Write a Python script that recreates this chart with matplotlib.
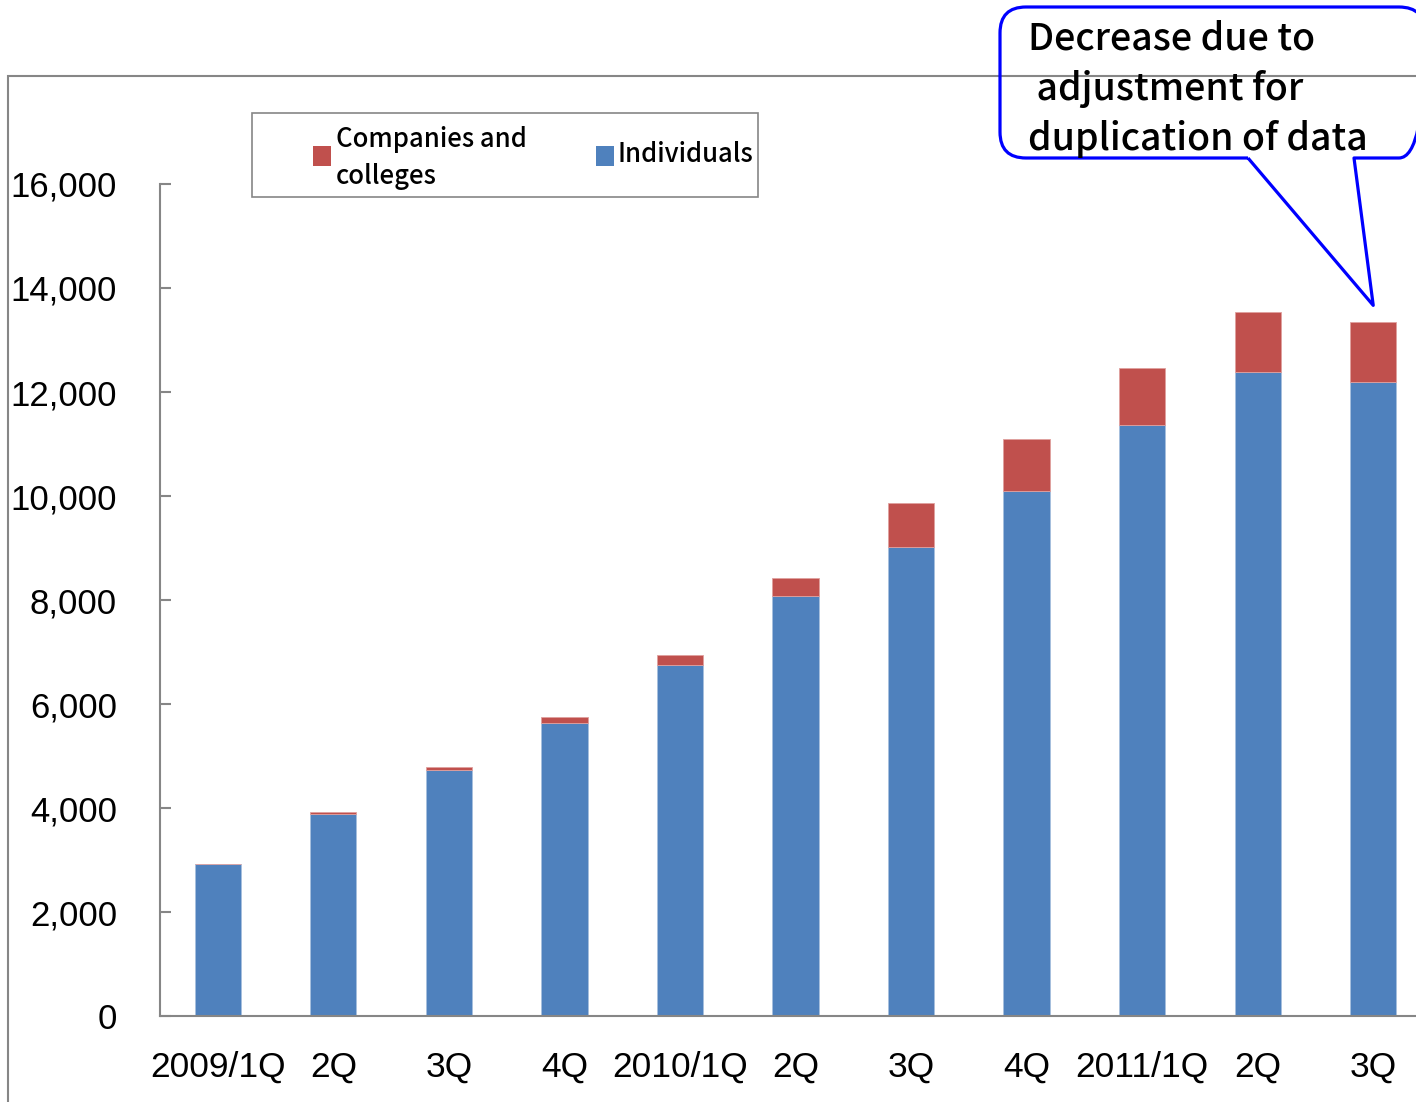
import numpy as np
import matplotlib
matplotlib.use('Agg')
import matplotlib.pyplot as plt
from matplotlib.path import Path
from matplotlib.patches import PathPatch, Rectangle
from matplotlib.transforms import IdentityTransform

# Quarterly registrations, stacked: individuals at the bottom
quarters = ["2009/1Q", "2Q", "3Q", "4Q", "2010/1Q", "2Q", "3Q", "4Q", "2011/1Q", "2Q", "3Q"]
individuals = [2920, 3885, 4737, 5629, 6750, 8077, 9019, 10096, 11365, 12385, 12192]
companies = [0, 38, 51, 121, 192, 346, 846, 1000, 1097, 1153, 1154]
yticks = [0, 2000, 4000, 6000, 8000, 10000, 12000, 14000, 16000]

BLUE = '#4F81BD'
RED = '#C0504D'
GRAY = '#868686'
W, H = 1416, 1102

label_font = ['Liberation Sans', 'DejaVu Sans']
jp_font = ['Noto Sans CJK JP', 'DejaVu Sans']

fig = plt.figure(figsize=(W / 100, H / 100), dpi=100)
ax = fig.add_axes([160 / W, 86 / H, 1271 / W, 832 / H])

x = np.arange(len(quarters))
ax.bar(x, individuals, width=0.4, color=BLUE, edgecolor='#A7C0DE', linewidth=0.6)
ax.bar(x, companies, width=0.4, bottom=individuals, color=RED, edgecolor='#E0A09E', linewidth=0.6)

ax.set_xlim(-0.5, len(quarters) - 0.5)
ax.set_ylim(0, 16000)
ax.set_yticks(yticks)
ax.set_yticklabels([f'{v:,}' for v in yticks], fontfamily=label_font, fontsize=25)
ax.set_xticks(x)
ax.set_xticklabels(quarters, fontfamily=label_font, fontsize=25.5)
ax.tick_params(axis='y', direction='in', length=8, width=1.5, color=GRAY, pad=31)
ax.tick_params(axis='x', length=0, pad=25)
for s in ['top', 'right']:
    ax.spines[s].set_visible(False)
for s in ['left', 'bottom']:
    ax.spines[s].set_color(GRAY)
    ax.spines[s].set_linewidth(1.5)

# outer chart frame
fig.patches.append(Rectangle((8 / W, -0.05), 1.2, 1.05 - 76 / H, transform=fig.transFigure,
                             fill=False, edgecolor=GRAY, linewidth=1.5, zorder=0))

# legend box
fig.patches.append(Rectangle((252 / W, 1 - 197 / H), 506 / W, 84 / H, transform=fig.transFigure,
                             facecolor='white', edgecolor=GRAY, linewidth=1.2))
fig.patches.append(Rectangle((313 / W, 1 - 166 / H), 18 / W, 20 / H, transform=fig.transFigure,
                             facecolor=RED, edgecolor='none'))
fig.patches.append(Rectangle((596 / W, 1 - 166 / H), 18 / W, 20 / H, transform=fig.transFigure,
                             facecolor=BLUE, edgecolor='none'))
fig.text(336 / W, 1 - 158 / H, 'Companies and\ncolleges', fontfamily=jp_font, fontsize=18.5,
         fontweight='medium', ha='left', va='center', linespacing=1.45)
fig.text(618 / W, 1 - 155 / H, 'Individuals', fontfamily=jp_font, fontsize=18.5,
         fontweight='medium', ha='left', va='center')

# speech bubble pointing at the last quarter
tip = ax.transData.transform((x[-1], individuals[-1] + companies[-1] + 320))
left, right, top, bot, r = 1000, 1425, 7, 158, 26
pts = [(1248, bot), (left + r, bot), (left, bot), (left, bot - r), (left, top + r), (left, top),
       (left + r, top), (right - r, top), (right, top), (right, top + r), (right, bot - r),
       (right, bot), (right - r, bot), (1354, bot)]
codes = [Path.MOVETO, Path.LINETO, Path.CURVE3, Path.CURVE3, Path.LINETO, Path.CURVE3, Path.CURVE3,
         Path.LINETO, Path.CURVE3, Path.CURVE3, Path.LINETO, Path.CURVE3, Path.CURVE3, Path.LINETO]
verts = [(px, H - py) for px, py in pts] + [tuple(tip), (1248, H - bot)]
codes += [Path.LINETO, Path.LINETO]
fig.patches.append(PathPatch(Path(verts, codes), transform=IdentityTransform(), fill=False,
                             edgecolor='#0000FF', linewidth=2.3, joinstyle='round'))
fig.text(1028 / W, 1 - 19 / H, 'Decrease due to\n adjustment for\nduplication of data',
         fontfamily=jp_font, fontsize=27, fontweight='medium', ha='left', va='top',
         linespacing=1.42)

fig.savefig('out.png', dpi=100)
